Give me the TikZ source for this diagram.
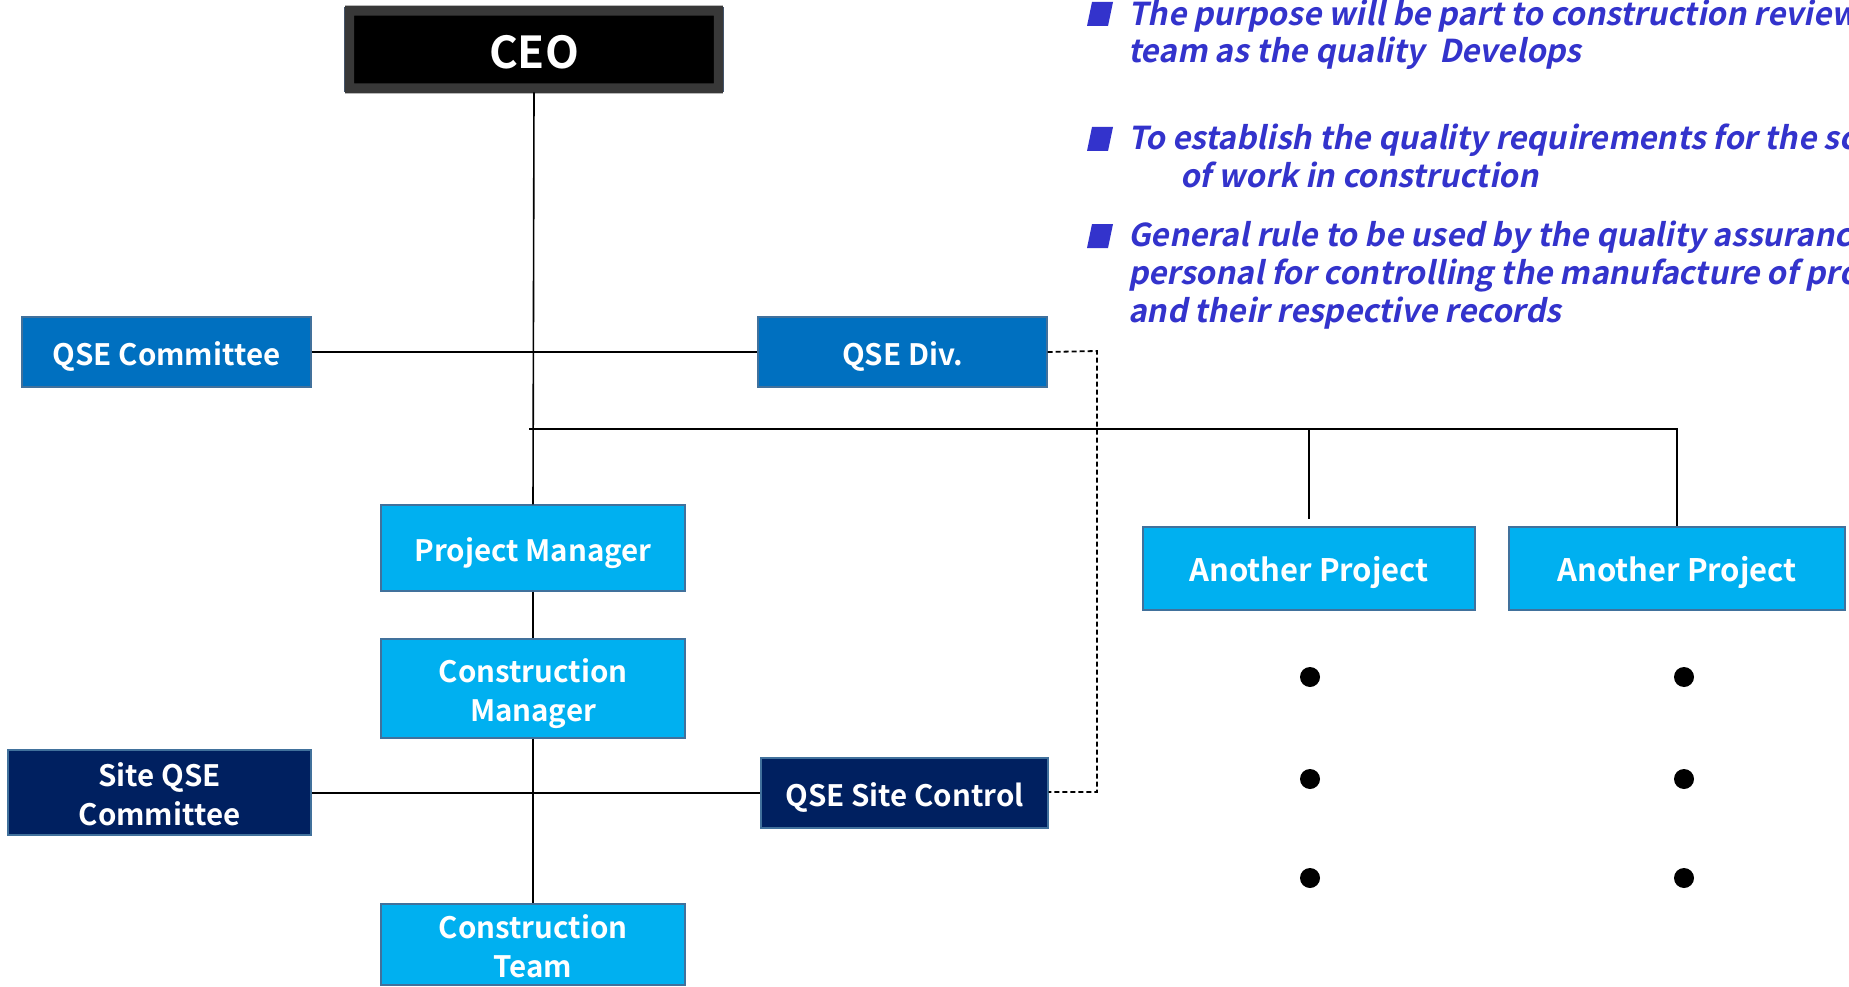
\documentclass[tikz,border=0pt]{standalone}
\usepackage{fontspec}
\setmainfont{Noto Sans CJK KR}[BoldFont={* Bold}]
\newfontfamily\bfam{Noto Sans CJK KR}[UprightFont={* Bold}]
\newfontfamily\slfam{Noto Sans CJK KR}[UprightFont={* Bold},FakeSlant=0.2]
\definecolor{midblue}{HTML}{0070C0}
\definecolor{lightblue}{HTML}{00B0F0}
\definecolor{darknavy}{HTML}{002060}
\definecolor{edgeblue}{HTML}{41719C}
\definecolor{ceoedge}{HTML}{44546A}
\definecolor{bultext}{HTML}{3333CC}
\tikzset{
  orgbox/.style={draw=edgeblue, line width=1.2pt, text=white, align=center, inner sep=0pt,
    text height=26pt, text depth=0pt, font=\bfam\fontsize{29.5}{39}\selectfont},
  twoline/.style={text height=65pt},
  midbox/.style={orgbox, fill=midblue},
  lightbox/.style={orgbox, fill=lightblue},
  navybox/.style={orgbox, fill=darknavy},
  conn/.style={line width=1.6pt, black},
  dashconn/.style={line width=1.8pt, black, dash pattern=on 5pt off 3pt},
  bultxt/.style={anchor=base west, inner sep=0pt, text=bultext, font=\slfam\fontsize{31.5}{37}\selectfont},
  bulsq/.style={fill=bultext},
  dot/.style={circle, fill=black, inner sep=0pt, minimum size=20pt}
}
\begin{document}
\begin{tikzpicture}[x=1pt,y=-1pt]
\clip (0,0) rectangle (1849,987);
\fill[white] (0,0) rectangle (1849,987);
% CEO
\node[orgbox, fill=black, draw=ceoedge, line width=1.8pt, minimum width=378pt, minimum height=84pt] (ceo) at (534,49.5) {};
\fill[black!78, even odd rule] ([shift={(1,1)}]ceo.south west) rectangle ([shift={(-1,-1)}]ceo.north east)
  ([shift={(10,-9)}]ceo.south west) rectangle ([shift={(-10,9)}]ceo.north east);
\node[text=white, text height=31pt, text depth=0pt, inner sep=0pt, font=\bfam\fontsize{44}{48}\selectfont] (ceotext) at ([yshift=-4pt]ceo.center) {CEO};
% boxes
\node[midbox, minimum width=289pt, minimum height=70pt] (qsec) at (166.5,352) {QSE Committee};
\node[midbox, minimum width=289pt, minimum height=70pt] (qsed) at (902.5,352) {QSE Div.};
\node[lightbox, minimum width=304pt, minimum height=86pt] (pm) at (533,548) {Project Manager};
\node[lightbox, twoline, minimum width=304pt, minimum height=99pt] (cm) at (533,688.5) {Construction\\Manager};
\node[navybox, twoline, minimum width=303pt, minimum height=85pt] (sqc) at (159.5,792.5) {Site QSE\\Committee};
\node[navybox, minimum width=287pt, minimum height=70pt] (qsc) at (904.5,793) {QSE Site Control};
\node[lightbox, twoline, minimum width=304pt, minimum height=81pt] (ct) at (533,944.5) {Construction\\Team};
\node[lightbox, minimum width=332pt, minimum height=83pt, font=\bfam\fontsize{31}{35}\selectfont] (ap1) at (1309,568.5) {Another Project};
\node[lightbox, minimum width=336pt, minimum height=83pt, font=\bfam\fontsize{31}{35}\selectfont] (ap2) at (1677,568.5) {Another Project};
% connectors
\draw[conn] (ceo.south) -- (pm.north);
\draw[conn] (pm.south) -- (cm.north);
\draw[conn] (cm.south) -- (ct.north);
\draw[conn] (qsec.east) -- (qsed.west);
\draw[conn] (sqc.east |- qsc.west) -- (qsc.west);
\coordinate (hstart) at (529,429);
\coordinate (hend) at (1677,429);
\coordinate (ap1top) at (1309,519);
\draw[conn] (hstart) -- (hend) -- (ap2.north);
\draw[conn] (1309,429) -- (ap1top);
\coordinate (dtop) at (1097,351);
\coordinate (dbot) at (1097,792);
\draw[dashconn] (qsed.east) -- (dtop) -- (dbot) -- (qsc.east |- dbot);
% dots
\foreach \xx/\nm in {1310/a,1684/b}{
  \node[dot] (\nm1) at (\xx,677) {};
  \node[dot] (\nm2) at (\xx,779) {};
  \node[dot] (\nm3) at (\xx,878) {};
}
% bullets
\fill[bulsq] (1087,26) -- (1108,26) -- (1113,2) -- (1092,2) -- cycle;
\fill[bulsq] (1087,151) -- (1108,151) -- (1113,127) -- (1092,127) -- cycle;
\fill[bulsq] (1087,248) -- (1108,248) -- (1113,224) -- (1092,224) -- cycle;
\node[bultxt] (b1a) at (1128,26) {The purpose will be part to construction review};
\node[bultxt] (b1b) at (1128,63) {team as the quality\ \ Develops};
\node[bultxt] (b2a) at (1128,150) {To establish the quality requirements for the scope};
\node[bultxt] (b2b) at (1180,188) {of work in construction};
\node[bultxt] (b3a) at (1128,246) {General rule to be used by the quality assurance};
\node[bultxt] (b3b) at (1128,284) {personal for controlling the manufacture of products};
\node[bultxt] (b3c) at (1128,322) {and their respective records};
\end{tikzpicture}
\end{document}
